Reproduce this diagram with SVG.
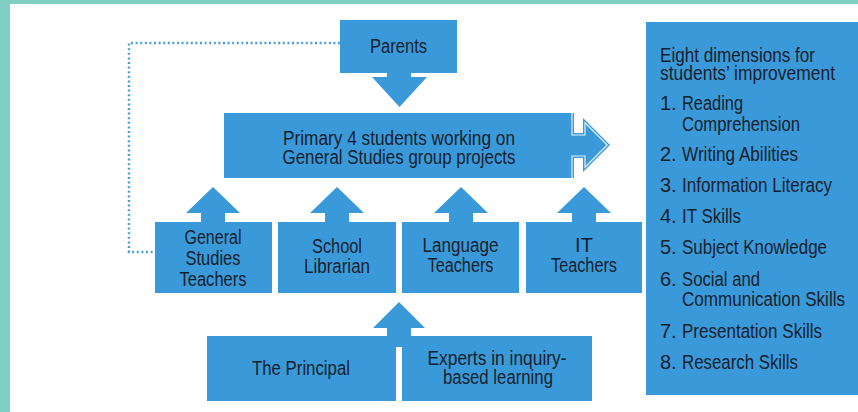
<svg xmlns="http://www.w3.org/2000/svg" width="858" height="412" viewBox="0 0 858 412">
<style>
.box{fill:#3a9ad9}
.t{font-family:"Liberation Sans Narrow","Liberation Sans",Arial,sans-serif;font-size:20px;fill:#17212e}
.c{text-anchor:middle}
.dot{fill:none;stroke:#4aa0da;stroke-width:2.5;stroke-dasharray:2 2.6}
</style>
<rect x="0" y="0" width="858" height="412" fill="#ffffff"/>
<rect x="0" y="0" width="858" height="4" fill="#7fcfc4"/>
<rect x="0" y="0" width="10" height="412" fill="#7fcfc4"/>

<g id="connectors">
  <path class="dot" d="M340,43 H129 V252 H155"/>
  <path class="box" d="M387,72 H411 V77 H427 L399.5,107 L372,77 H387 Z"/>
  <path class="box" d="M201,222 V213 H186 L213,187 L240,213 H225 V222 Z"/>
  <path class="box" d="M325,222 V213 H310 L337,187 L364,213 H349 V222 Z"/>
  <path class="box" d="M449,222 V213 H434 L461,187 L488,213 H473 V222 Z"/>
  <path class="box" d="M572,222 V213 H557 L584,187 L611,213 H596 V222 Z"/>
  <path class="box" d="M387,337 V328 H373 L399,302 L425,328 H411 V337 Z"/>
  <rect class="box" x="395" y="335" width="8" height="12"/>
</g>

<g id="parents">
  <rect class="box" x="340" y="20" width="117" height="53"/>
  <text class="t c" x="398.5" y="53" textLength="57" lengthAdjust="spacingAndGlyphs">Parents</text>
</g>

<g id="students">
  <path class="box" d="M224,113 H574 V133 H583 V118 L610,145 L583,172 V158 H574 V178 H224 Z"/>
  <polyline points="572,113 572,135 585,135 585,122.8 607.2,145 585,167.2 585,156 572,156 572,178" fill="none" stroke="#ffffff" stroke-width="1.2" opacity="0.85"/>
  <text class="t c" x="399" y="145" textLength="232" lengthAdjust="spacingAndGlyphs">Primary 4 students working on</text>
  <text class="t c" x="399" y="164" textLength="233" lengthAdjust="spacingAndGlyphs">General Studies group projects</text>
</g>

<g id="gs-teachers">
  <rect class="box" x="155" y="222" width="117" height="71"/>
  <text class="t c" x="213" y="244" textLength="57" lengthAdjust="spacingAndGlyphs">General</text>
  <text class="t c" x="213" y="265" textLength="55" lengthAdjust="spacingAndGlyphs">Studies</text>
  <text class="t c" x="213" y="286" textLength="67" lengthAdjust="spacingAndGlyphs">Teachers</text>
</g>

<g id="librarian">
  <rect class="box" x="278" y="222" width="118" height="71"/>
  <text class="t c" x="337" y="253" textLength="50" lengthAdjust="spacingAndGlyphs">School</text>
  <text class="t c" x="337" y="273" textLength="66" lengthAdjust="spacingAndGlyphs">Librarian</text>
</g>

<g id="language-teachers">
  <rect class="box" x="402" y="222" width="117" height="71"/>
  <text class="t c" x="460.5" y="252" textLength="76" lengthAdjust="spacingAndGlyphs">Language</text>
  <text class="t c" x="460.5" y="272" textLength="66" lengthAdjust="spacingAndGlyphs">Teachers</text>
</g>

<g id="it-teachers">
  <rect class="box" x="526" y="222" width="116" height="71"/>
  <text class="t c" x="584" y="252">IT</text>
  <text class="t c" x="584" y="272" textLength="66" lengthAdjust="spacingAndGlyphs">Teachers</text>
</g>

<g id="principal">
  <rect class="box" x="207" y="336" width="189" height="65"/>
  <text class="t c" x="301" y="375" textLength="98" lengthAdjust="spacingAndGlyphs">The Principal</text>
</g>

<g id="experts">
  <rect class="box" x="402" y="336" width="190" height="65"/>
  <text class="t c" x="497" y="365" textLength="139" lengthAdjust="spacingAndGlyphs">Experts in inquiry-</text>
  <text class="t c" x="498" y="384" textLength="110" lengthAdjust="spacingAndGlyphs">based learning</text>
</g>

<g id="dimensions">
  <rect class="box" x="646" y="22" width="212" height="373"/>
  <text class="t" x="660" y="62" textLength="155" lengthAdjust="spacingAndGlyphs">Eight dimensions for</text>
  <text class="t" x="660" y="80" textLength="175" lengthAdjust="spacingAndGlyphs">students’ improvement</text>
  <text class="t" x="660" y="110">1.</text>
  <text class="t" x="682" y="110" textLength="61" lengthAdjust="spacingAndGlyphs">Reading</text>
  <text class="t" x="682" y="131" textLength="118" lengthAdjust="spacingAndGlyphs">Comprehension</text>
  <text class="t" x="660" y="161">2.</text>
  <text class="t" x="682" y="161" textLength="116" lengthAdjust="spacingAndGlyphs">Writing Abilities</text>
  <text class="t" x="660" y="192">3.</text>
  <text class="t" x="682" y="192" textLength="150" lengthAdjust="spacingAndGlyphs">Information Literacy</text>
  <text class="t" x="660" y="223">4.</text>
  <text class="t" x="682" y="223" textLength="59" lengthAdjust="spacingAndGlyphs">IT Skills</text>
  <text class="t" x="660" y="254">5.</text>
  <text class="t" x="682" y="254" textLength="145" lengthAdjust="spacingAndGlyphs">Subject Knowledge</text>
  <text class="t" x="660" y="286">6.</text>
  <text class="t" x="682" y="286" textLength="78" lengthAdjust="spacingAndGlyphs">Social and</text>
  <text class="t" x="682" y="306" textLength="163" lengthAdjust="spacingAndGlyphs">Communication Skills</text>
  <text class="t" x="660" y="338">7.</text>
  <text class="t" x="682" y="338" textLength="140" lengthAdjust="spacingAndGlyphs">Presentation Skills</text>
  <text class="t" x="660" y="369">8.</text>
  <text class="t" x="682" y="369" textLength="116" lengthAdjust="spacingAndGlyphs">Research Skills</text>
</g>
</svg>
